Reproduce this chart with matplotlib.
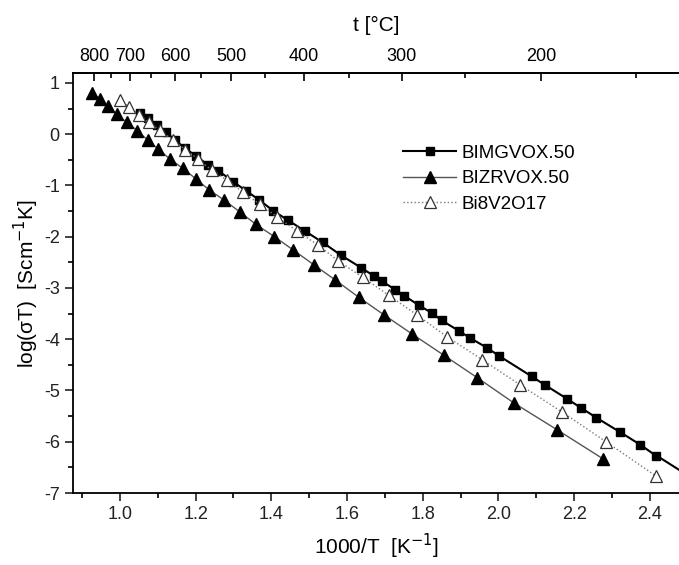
import numpy as np
import matplotlib
matplotlib.use("Agg")
import matplotlib.pyplot as plt

plt.rcParams['font.family'] = ['Liberation Sans', 'DejaVu Sans']
plt.rcParams['axes.unicode_minus'] = False

# BIMGVOX.50 (filled squares)
mg_x = [1.053, 1.075, 1.097, 1.122, 1.145, 1.172, 1.201, 1.233, 1.260, 1.299,
        1.333, 1.368, 1.404, 1.445, 1.490, 1.536, 1.583, 1.637, 1.670, 1.692,
        1.728, 1.751, 1.790, 1.824, 1.850, 1.895, 1.924, 1.971, 2.001, 2.088,
        2.124, 2.181, 2.219, 2.259, 2.322, 2.375, 2.416]
mg_y = [0.409, 0.317, 0.186, 0.038, -0.112, -0.274, -0.424, -0.600, -0.711, -0.926,
        -1.101, -1.283, -1.488, -1.683, -1.894, -2.112, -2.356, -2.604, -2.760, -2.868,
        -3.034, -3.151, -3.337, -3.489, -3.633, -3.834, -3.971, -4.172, -4.322, -4.726,
        -4.898, -5.161, -5.343, -5.532, -5.815, -6.059, -6.273]

# BIZRVOX.50 (filled triangles)
zr_x = [0.927, 0.947, 0.969, 0.991, 1.018, 1.046, 1.073, 1.101, 1.132, 1.166,
        1.200, 1.236, 1.275, 1.317, 1.359, 1.408, 1.458, 1.513, 1.569, 1.631,
        1.697, 1.772, 1.856, 1.944, 2.041, 2.156, 2.277]
zr_y = [0.80, 0.688, 0.551, 0.389, 0.233, 0.069, -0.112, -0.288, -0.483, -0.664,
        -0.867, -1.088, -1.283, -1.517, -1.757, -1.999, -2.259, -2.551, -2.844, -3.181,
        -3.521, -3.898, -4.313, -4.750, -5.244, -5.771, -6.337]

# Bi8V2O17 (open triangles)
bv_x = [1.000, 1.024, 1.051, 1.076, 1.106, 1.139, 1.172, 1.206, 1.242, 1.282,
        1.324, 1.370, 1.415, 1.468, 1.523, 1.577, 1.642, 1.711, 1.785, 1.865,
        1.957, 2.058, 2.168, 2.285, 2.416]
bv_y = [0.662, 0.532, 0.381, 0.239, 0.077, -0.106, -0.298, -0.483, -0.698, -0.893,
        -1.123, -1.367, -1.615, -1.888, -2.161, -2.473, -2.795, -3.146, -3.527, -3.956,
        -4.399, -4.893, -5.420, -6.005, -6.668]

series_labels = ['BIMGVOX.50', 'BIZRVOX.50', 'Bi8V2O17']
bottom_ticks = [1.0, 1.2, 1.4, 1.6, 1.8, 2.0, 2.2, 2.4]
top_ticks = [800, 700, 600, 500, 400, 300, 200]
top_minor = [750, 650, 550, 450, 350, 250, 150]
y_ticks = [1, 0, -1, -2, -3, -4, -5, -6, -7]

W, H = 679, 565
fig = plt.figure(figsize=(W / 100, H / 100), dpi=100)
ax = fig.add_axes([73 / W, 1 - 493 / H, (679 - 73) / W, (493 - 73) / H])

xlim = (0.876, 2.477)
ylim = (-7.0, 1.195)

ax.plot(mg_x, mg_y, '-', color='black', lw=1.5, marker='s', ms=6.3,
        mfc='black', mec='black', label=series_labels[0], zorder=3)
# extension of the BIMGVOX line to the right edge (slope from last points)
p = np.polyfit(mg_x[-6:], mg_y[-6:], 1)
xe = np.array([mg_x[-1], xlim[1]])
ax.plot(xe, np.polyval(p, xe), '-', color='black', lw=1.5, zorder=2)

ax.plot(zr_x, zr_y, '-', color='#555555', lw=1.0, marker='^', ms=8,
        mfc='black', mec='black', label=series_labels[1], zorder=3)
ax.plot(bv_x, bv_y, ':', color='#777777', lw=1.0, marker='^', ms=8,
        mfc='white', mec='#333333', mew=0.9, label=series_labels[2], zorder=3)

ax.set_xlim(*xlim)
ax.set_ylim(*ylim)
ax.set_xticks(bottom_ticks)
ax.set_xticklabels([f'{v:.1f}' for v in bottom_ticks])
ax.set_xticks(np.arange(0.9, 2.45, 0.2), minor=True)
ax.set_yticks(y_ticks)
ax.set_yticklabels([str(v) for v in y_ticks])
ax.set_yticks(np.arange(-6.5, 1.0, 1.0), minor=True)
ax.tick_params(axis='both', which='major', direction='out', length=6, width=1.2,
               labelsize=13, colors='#222222')
ax.tick_params(axis='both', which='minor', direction='out', length=3.5, width=1.2)
for s in ['left', 'bottom', 'top']:
    ax.spines[s].set_linewidth(1.3)
ax.spines['right'].set_visible(False)

ax.set_xlabel('1000/T  [K$^{-1}$]', fontsize=15, labelpad=6)
ax.set_ylabel('log(σT)  [Scm$^{-1}$K]', fontsize=15, labelpad=2)

f = lambda x: 1000.0 / np.asarray(x, dtype=float) - 273.15
g = lambda t: 1000.0 / (np.asarray(t, dtype=float) + 273.15)
sec = ax.secondary_xaxis('top', functions=(f, g))
sec.set_xticks(top_ticks)
sec.set_xticks(top_minor, minor=True)
sec.tick_params(axis='x', which='major', direction='in', length=6, width=1.2,
                labelsize=13, pad=6)
sec.tick_params(axis='x', which='minor', direction='in', length=3.5, width=1.2)
sec.spines['top'].set_linewidth(1.3)
sec.set_xlabel('t [°C]', fontsize=15, labelpad=12)

leg = ax.legend(loc='upper left', bbox_to_anchor=(0.545, 0.83), frameon=False,
                fontsize=13.5, handlelength=2.8, handletextpad=0.3,
                labelspacing=0.45, borderpad=0, borderaxespad=0, numpoints=1)

fig.savefig('out.png', dpi=100)
